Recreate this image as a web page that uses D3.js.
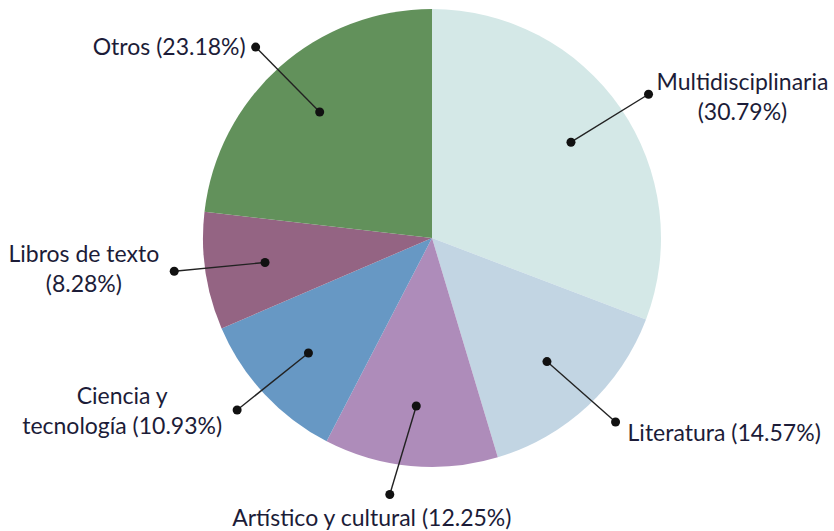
<!DOCTYPE html>
<html>
<head>
<meta charset="utf-8">
<script src="https://cdn.jsdelivr.net/npm/d3@7"></script>
<style>
  body { margin: 0; background: #fff; }
  svg { display: block; }
</style>
</head>
<body>
<svg id="pie" width="834" height="531"></svg>
<script>
// data
const categories = ["Multidisciplinaria", "Literatura", "Artístico y cultural", "Ciencia y tecnología", "Libros de texto", "Otros"];
const shares = [30.79, 14.57, 12.25, 10.93, 8.28, 23.18];
const labelLines = [
    ["Multidisciplinaria", "(30.79%)"],
    ["Literatura (14.57%)"],
    ["Artístico y cultural (12.25%)"],
    ["Ciencia y", "tecnología (10.93%)"],
    ["Libros de texto", "(8.28%)"],
    ["Otros (23.18%)"]
];
const colors = ["#d4e8e7", "#c2d5e3", "#ae8cba", "#6798c4", "#946483", "#62915b"];

// layout
const width = 834, height = 531;
const cx = 432, cy = 238, radius = 229;
const lineH = 30;
// where the label block sits against the outer dot
const placement = [
    { side: "right", dx: 8, dy: 2 },
    { side: "right", dx: 12, dy: 10 },
    { side: "below", dx: -18, dy: 23 },
    { side: "left", dx: -15, dy: 0 },
    { side: "left", dx: -15, dy: -3 },
    { side: "left", dx: -10, dy: -1 }
];
const angleShift = [1, -2, 4, 1.5, 1, -1]; // degrees, leader line tilt

const data = categories.map((c, i) => ({ name: c, value: shares[i], i: i }));

const svg = d3.select("#pie");
const g = svg.append("g").attr("transform", `translate(${cx},${cy})`);

const pie = d3.pie().sort(null).value(d => d.value);
const arc = d3.arc().innerRadius(0).outerRadius(radius);
const arcs = pie(data);

g.selectAll("path.slice")
    .data(arcs)
    .enter().append("path")
    .attr("class", "slice")
    .attr("d", arc)
    .attr("fill", d => colors[d.data.i]);

function pt(a, r) {
    return [Math.sin(a) * r, -Math.cos(a) * r];
}

const labels = arcs.map(d => {
    const mid = (d.startAngle + d.endAngle) / 2;
    const inner = pt(mid, radius * 0.737);
    const outer = pt(mid + angleShift[d.data.i] * Math.PI / 180, radius * 1.135);
    return { d, inner, outer };
});

// leader lines
g.selectAll("line.leader")
    .data(labels)
    .enter().append("line")
    .attr("class", "leader")
    .attr("x1", l => l.inner[0]).attr("y1", l => l.inner[1])
    .attr("x2", l => l.outer[0]).attr("y2", l => l.outer[1])
    .attr("stroke", "#222")
    .attr("stroke-width", 1.4);

g.selectAll("circle.dot")
    .data(labels.flatMap(l => [l.inner, l.outer]))
    .enter().append("circle")
    .attr("class", "dot")
    .attr("cx", p => p[0]).attr("cy", p => p[1])
    .attr("r", 4.5)
    .attr("fill", "#111");

// labels
labels.forEach(l => {
    const i = l.d.data.i;
    const p = placement[i];
    const lines = labelLines[i];
    const grp = g.append("g");
    const texts = lines.map(t => grp.append("text")
        .style("font-family", "Lato, 'Open Sans', sans-serif")
        .style("font-size", "23px")
        .attr("fill", "#1c1c38")
        .attr("dominant-baseline", "central")
        .text(t));
    const widths = texts.map(t => t.node().getComputedTextLength());
    const blockW = d3.max(widths);
    const n = lines.length;
    let left;
    if (p.side === "right") {
        left = l.outer[0] + p.dx;
    } else if (p.side === "left") {
        left = l.outer[0] + p.dx - blockW;
    } else {
        left = l.outer[0] + p.dx - blockW / 2;
    }
    const top = l.outer[1] + p.dy - (n - 1) * lineH / 2;
    texts.forEach((t, k) => {
        t.attr("x", left + (blockW - widths[k]) / 2)
         .attr("y", top + k * lineH);
    });
});
</script>
</body>
</html>
